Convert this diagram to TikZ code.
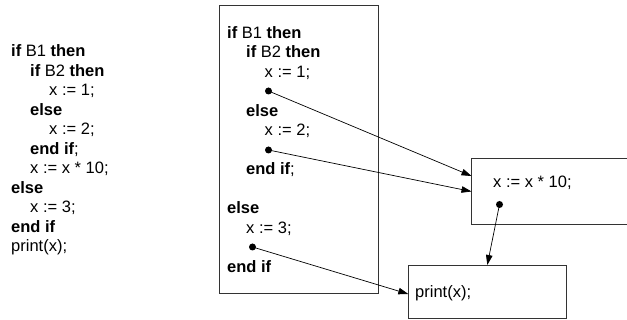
\documentclass[tikz,border=0pt]{standalone}
\usepackage{fontspec}
\setmainfont{Liberation Sans}
\usetikzlibrary{arrows.meta}
\begin{document}
\begin{tikzpicture}[x=1pt,y=-1pt,
  code/.style={anchor=base west,inner sep=0pt,font=\fontsize{16.5}{19.5}\selectfont},
  box/.style={draw=black!80,line width=0.8pt},
  dot/.style={circle,fill=black,inner sep=0pt,minimum size=7pt},
  flow/.style={-{Triangle[length=10pt,width=6.5pt]},line width=0.7pt}]
\useasboundingbox (0,0) rectangle (627,320);

% source program, left column
\node[code] (l1)  at (11,57)    {\textbf{if} B1 \textbf{then}};
\node[code] (l2)  at (30,76.5)  {\textbf{if} B2 \textbf{then}};
\node[code] (l3)  at (49,96)    {x := 1;};
\node[code] (l4)  at (30,115.5) {\textbf{else}};
\node[code] (l5)  at (49,135)   {x := 2;};
\node[code] (l6)  at (30,154.5) {\textbf{end if};};
\node[code] (l7)  at (30,174)   {x := x * 10;};
\node[code] (l8)  at (11,193.5) {\textbf{else}};
\node[code] (l9)  at (30,213)   {x := 3;};
\node[code] (l10) at (11,232.5) {\textbf{end if}};
\node[code] (l11) at (11,252)   {print(x);};

% first block with its three exit points
\draw[box] (219,5) rectangle (378,293);
\node[code] (m1)  at (227,38.5)  {\textbf{if} B1 \textbf{then}};
\node[code] (m2)  at (246,58)    {\textbf{if} B2 \textbf{then}};
\node[code] (m3)  at (264.5,77.5){x := 1;};
\node[dot]  (d1)  at (268.5,91)  {};
\node[code] (m4)  at (246,116.5) {\textbf{else}};
\node[code] (m5)  at (264.5,136) {x := 2;};
\node[dot]  (d2)  at (268.5,150) {};
\node[code] (m6)  at (246,175)   {\textbf{end if};};
\node[code] (m7)  at (227,214)   {\textbf{else}};
\node[code] (m8)  at (246,233.5) {x := 3;};
\node[dot]  (d3)  at (252.5,247) {};
\node[code] (m9)  at (227,272.5) {\textbf{end if}};

% second block (runs past the right margin)
\draw[box] (640,158) -- (471.5,158) -- (471.5,224) -- (640,224);
\node[code] (b1) at (493,188) {x := x * 10;};
\node[dot]  (d4) at (499.5,204.5) {};
\coordinate (inB1) at (471.5,176);
\coordinate (inB2) at (471.5,191.5);

% third block
\draw[box] (408.3,265) rectangle (566,318.5);
\node[code] (c1) at (415,298) {print(x);};
\coordinate (inC1) at (408.3,294);
\coordinate (inC2) at (487.3,265);

% control flow
\draw[flow] (d1.center) -- (inB1);
\draw[flow] (d2.center) -- (inB2);
\draw[flow] (d3.center) -- (inC1);
\draw[flow] (d4.center) -- (inC2);
\end{tikzpicture}
\end{document}
